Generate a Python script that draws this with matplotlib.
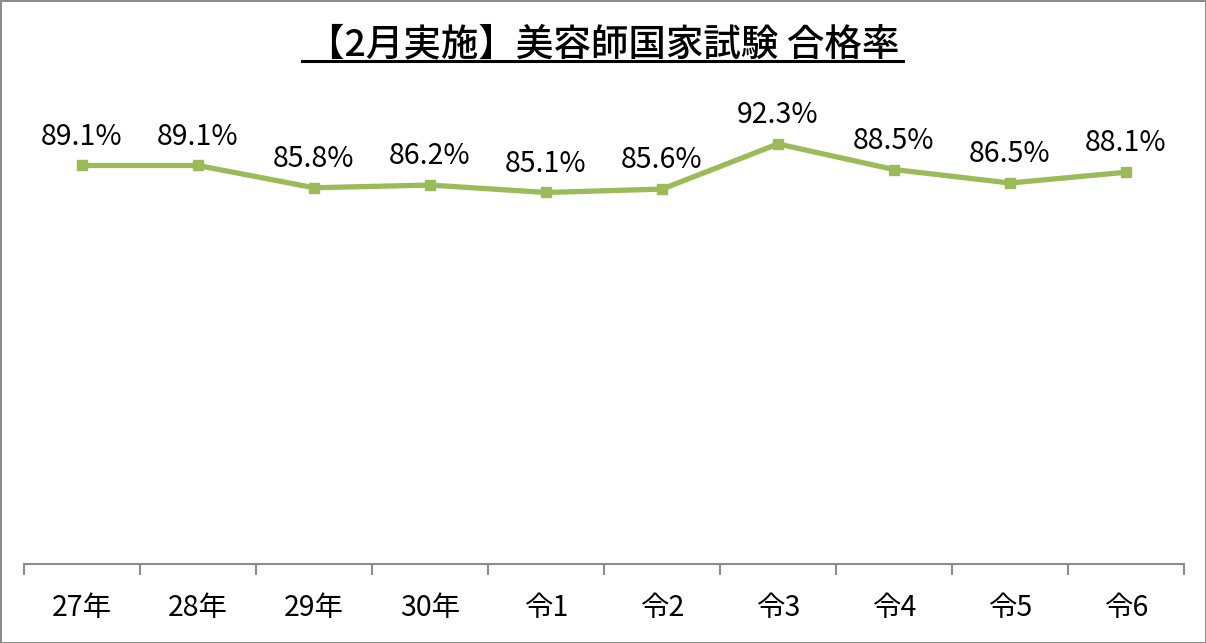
import matplotlib
matplotlib.use("Agg")
import matplotlib.pyplot as plt
from matplotlib.ticker import FixedLocator
import numpy as np

plt.rcParams['font.family'] = ['Noto Sans CJK JP', 'DejaVu Sans']

title = "【2月実施】美容師国家試験 合格率"
categories = ["27年", "28年", "29年", "30年", "令1", "令2", "令3", "令4", "令5", "令6"]
values = [89.1, 89.1, 85.8, 86.2, 85.1, 85.6, 92.3, 88.5, 86.5, 88.1]
labels = ["89.1%", "89.1%", "85.8%", "86.2%", "85.1%", "85.6%", "92.3%", "88.5%", "86.5%", "88.1%"]

fig = plt.figure(figsize=(12.06, 6.43), dpi=100)
fig.patch.set_facecolor('white')
fig.patch.set_edgecolor('#8c8c8c')
fig.patch.set_linewidth(2)

ax = fig.add_axes([24/1206, 79/643, 1160/1206, 472/643])
x = np.arange(len(categories))
ax.plot(x, values, color='#9BBB59', lw=3.8, marker='s', ms=7, mfc='#9BBB59', mec='#9BBB59',
        solid_joinstyle='round')
for xi, v, lab in zip(x, values, labels):
    ax.annotate(lab, (xi, v), xytext=(0, 10), textcoords='offset points',
                ha='center', va='bottom', fontsize=20.5, color='black')

ax.set_xlim(-0.5, len(categories) - 0.5)
ax.set_ylim(30, 100)
ax.set_yticks([])
for s in ['top', 'right', 'left']:
    ax.spines[s].set_visible(False)
ax.spines['bottom'].set_color('#8c8c8c')
ax.spines['bottom'].set_linewidth(1.5)
ax.set_xticks(x)
ax.set_xticklabels(categories, fontsize=20.5)
ax.tick_params(axis='x', which='major', length=0, pad=21)
ax.xaxis.set_minor_locator(FixedLocator(np.arange(-0.5, len(categories), 1.0)))
ax.tick_params(axis='x', which='minor', length=8, width=1.5, color='#8c8c8c', direction='out')

fig.text(0.5, 1 - 44/643, title, ha='center', va='center', fontsize=27, fontweight='medium')
ln = plt.Line2D([302/1206, 903/1206], [1 - 61/643, 1 - 61/643], transform=fig.transFigure,
                color='black', lw=2.2)
fig.add_artist(ln)

fig.savefig('out.png', dpi=100)
